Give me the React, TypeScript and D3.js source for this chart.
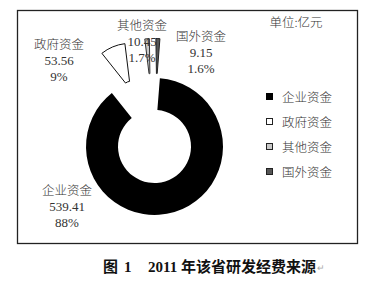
import React from "react";
import * as d3 from "d3";

// Sources of R&D funding, 2011 (unit: 100 million yuan)
const categories = ["企业资金", "政府资金", "其他资金", "国外资金"];
const values = [539.41, 53.56, 10.45, 9.15];
const valueLabels = ["539.41", "53.56", "10.45", "9.15"];
const percentLabels = ["88%", "9%", "1.7%", "1.6%"];

const W = 366;
const H = 281;

const fills = ["#000000", "#ffffff", "#c9c9c9", "#555555"];
const strokes = ["#000000", "#111111", "#333333", "#222222"];

// Enterprise ring stays in place, the other slices are pulled out and drawn smaller
const explode = [0, 62, 65, 65];
const innerR = [36.5, 8, 8, 8];
const outerR = [68.5, 46, 43, 43];

// Label anchor points (centre x, first line baseline y) per category
const labelPos: [number, number][] = [
  [67, 195],
  [59, 49],
  [142, 30],
  [201, 41],
];

const cx = 154.5;
const cy = 146.5;

const latin = "'Liberation Serif', 'Noto Sans CJK SC', serif";
const cjk = "'Noto Sans CJK SC', sans-serif";

export default function App() {
  const deg = Math.PI / 180;
  const pie = d3
    .pie<number>()
    .sort(null)
    .value((d) => d)
    .startAngle(4.5 * deg)
    .endAngle(364.5 * deg);
  const arcsData = pie(values);

  const legendY = d3
    .scalePoint<string>()
    .domain(categories)
    .range([97, 172]);

  return (
    <svg
      width={W}
      height={H}
      style={{ position: "absolute", left: 0, top: 0, background: "#fff" }}
    >
      <rect x={17.5} y={10.5} width={340} height={233} fill="#fff" stroke="#222" strokeWidth={1.3} />

      <g>
        {arcsData.map((a, i) => {
          const mid = (a.startAngle + a.endAngle) / 2;
          const dx = Math.sin(mid) * explode[i];
          const dy = -Math.cos(mid) * explode[i];
          const path = d3
            .arc<d3.PieArcDatum<number>>()
            .innerRadius(innerR[i])
            .outerRadius(outerR[i])(a) as string;
          return (
            <path
              key={categories[i]}
              d={path}
              transform={`translate(${cx + dx},${cy + dy})`}
              fill={fills[i]}
              stroke={strokes[i]}
              strokeWidth={i === 0 ? 0 : 1}
            />
          );
        })}
      </g>

      {/* slice labels */}
      <g fill="#333" textAnchor="middle">
        {categories.map((c, i) => {
          const [x, y] = labelPos[i];
          return (
            <g key={c}>
              <text x={x} y={y} fontFamily={cjk} fontSize={12.5} fontWeight={300}>
                {c}
              </text>
              <text x={x} y={y + 16} fontFamily={latin} fontSize={13}>
                {valueLabels[i]}
              </text>
              <text x={x} y={y + 32} fontFamily={latin} fontSize={13}>
                {percentLabels[i]}
              </text>
            </g>
          );
        })}
      </g>

      <text x={296} y={27} textAnchor="middle" fontFamily={cjk} fontSize={12.5} fontWeight={300} fill="#333">
        单位:亿元
      </text>

      {/* legend */}
      <g>
        {categories.map((c, i) => {
          const y = legendY(c) as number;
          return (
            <g key={c}>
              <rect
                x={266.5}
                y={y - 3.5}
                width={6}
                height={6}
                fill={fills[i]}
                stroke={i === 0 ? "#000" : "#222"}
                strokeWidth={1}
              />
              <text x={282} y={y + 4.5} fontFamily={cjk} fontSize={12.5} fontWeight={300} fill="#333">
                {c}
              </text>
            </g>
          );
        })}
      </g>

      {/* caption */}
      <text y={272} fontSize={15} fontWeight={700} fill="#111">
        <tspan x={103} fontFamily={cjk}>图</tspan>
        <tspan x={124} fontFamily={latin}>1</tspan>
        <tspan x={148} fontFamily={latin}>2011</tspan>
        <tspan x={181} fontFamily={cjk}>年该省研发经费来源</tspan>
      </text>
      <text x={317} y={271} fontSize={9} fill="#aaa" fontFamily={cjk}>
        ↵
      </text>
    </svg>
  );
}
